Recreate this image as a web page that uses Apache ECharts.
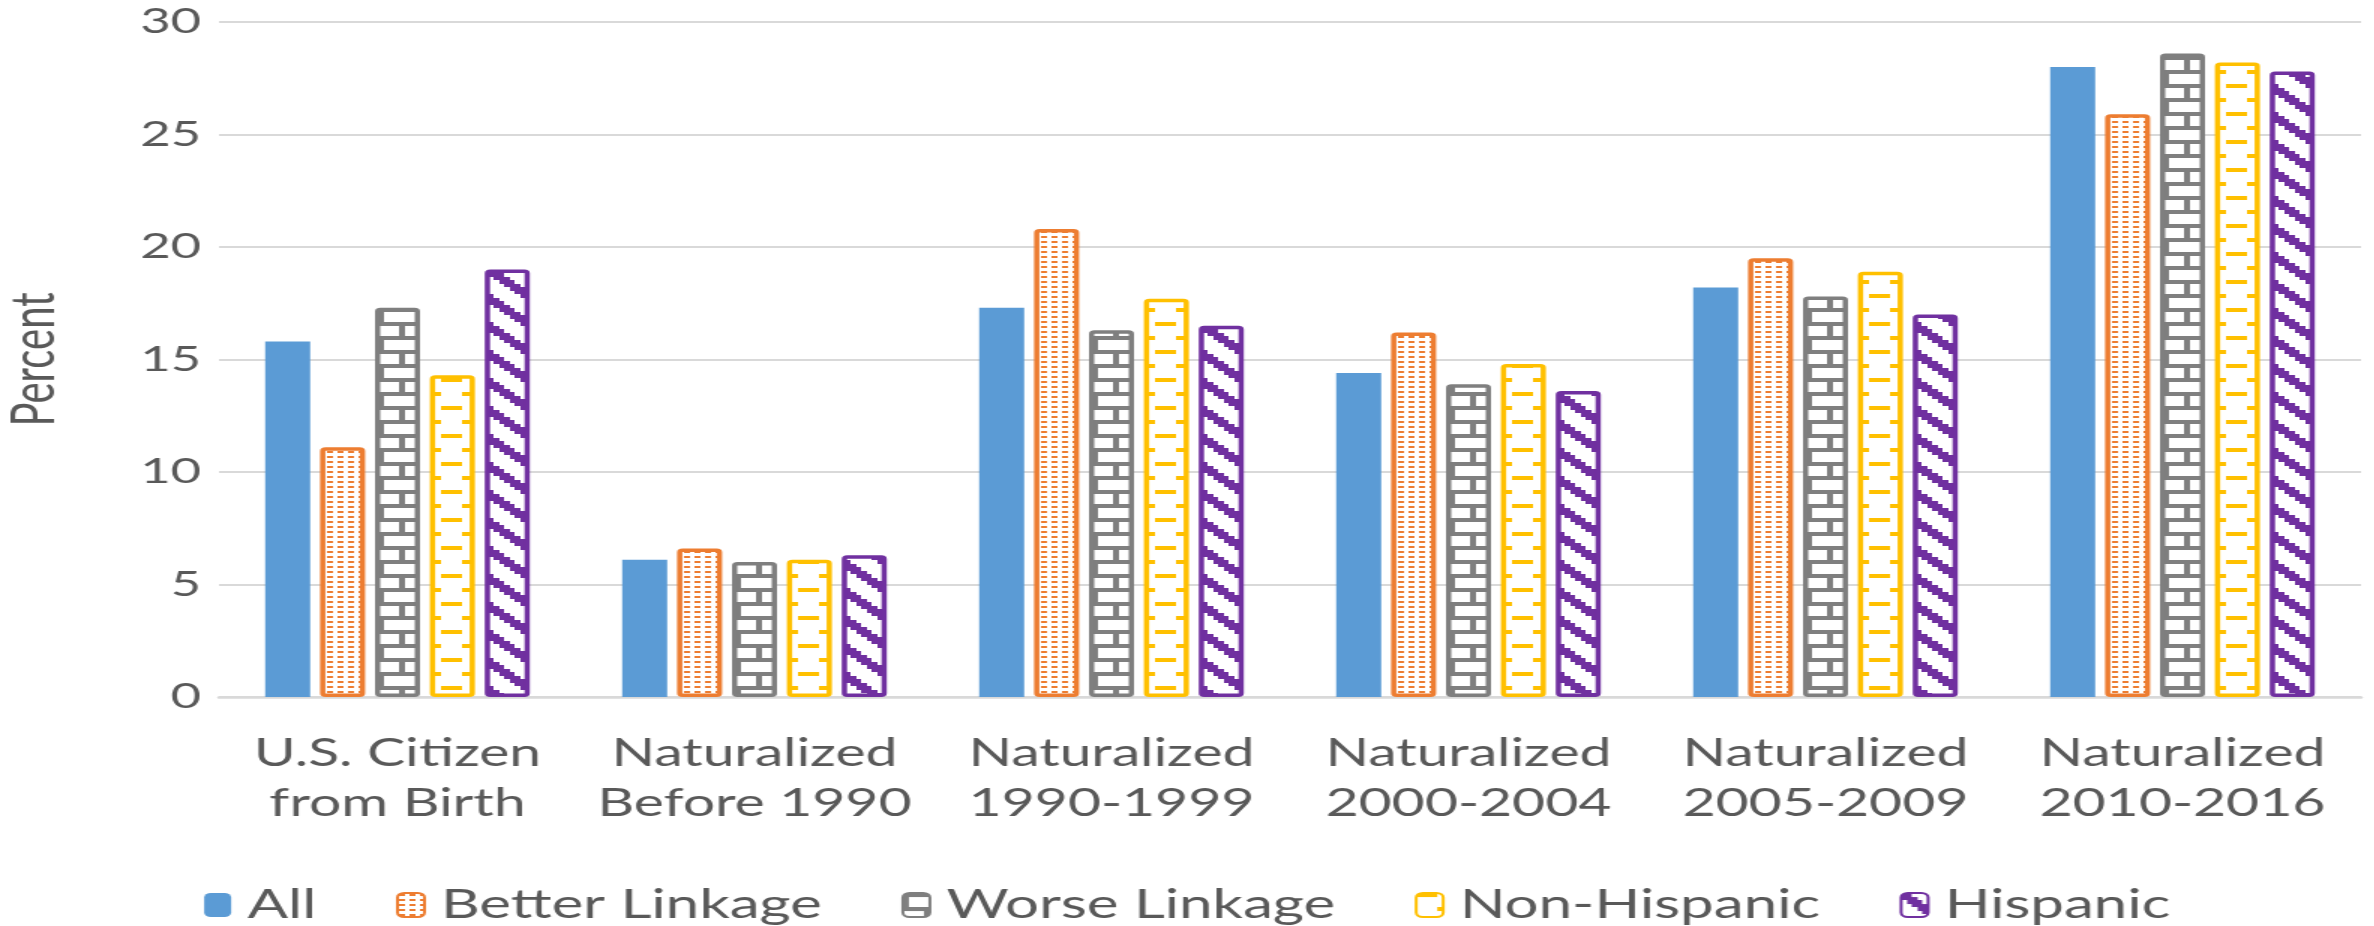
<!DOCTYPE html>
<html>
<head>
<meta charset="utf-8">
<script src="https://cdn.jsdelivr.net/npm/echarts@6/dist/echarts.min.js"></script>
<style>
  html, body { margin: 0; padding: 0; background: #ffffff; overflow: hidden; }
  /* the chart is laid out narrow and widened 1.5x, like the exported Excel figure */
  #chart { width: 1583px; height: 926px; transform: scaleX(1.5); transform-origin: 0 0; }
</style>
</head>
<body>
<div id="chart"></div>
<script>
const categories = [
  'U.S. Citizen\nfrom Birth',
  'Naturalized\nBefore 1990',
  'Naturalized\n1990-1999',
  'Naturalized\n2000-2004',
  'Naturalized\n2005-2009',
  'Naturalized\n2010-2016'
];
const seriesNames = ['All', 'Better Linkage', 'Worse Linkage', 'Non-Hispanic', 'Hispanic'];
const allValues      = [15.8, 6.1, 17.3, 14.4, 18.2, 28.0];
const betterLinkage  = [11.1, 6.6, 20.8, 16.2, 19.5, 25.9];
const worseLinkage   = [17.3, 6.0, 16.3, 13.9, 17.8, 28.6];
const nonHispanic    = [14.3, 6.1, 17.7, 14.8, 18.9, 28.2];
const hispanic       = [19.0, 6.3, 16.5, 13.6, 17.0, 27.8];
const yTicks = [0, 5, 10, 15, 20, 25, 30];

const FONT = 'Lato, sans-serif';
const TEXT = '#595959';
const GRID = '#d9d9d9';

// 8x8 Office pattern bitmaps rendered into a repeating tile
function bitmapTile(rows, color, cell) {
  const n = rows.length;
  const size = Math.round(n * cell);
  const c = document.createElement('canvas');
  c.width = size; c.height = size;
  const g = c.getContext('2d');
  g.fillStyle = '#ffffff';
  g.fillRect(0, 0, size, size);
  g.fillStyle = color;
  for (let y = 0; y < n; y++) {
    for (let x = 0; x < rows[y].length; x++) {
      if (rows[y][x] === '1') {
        const x0 = Math.round(x * cell), x1 = Math.round((x + 1) * cell);
        const y0 = Math.round(y * cell), y1 = Math.round((y + 1) * cell);
        g.fillRect(x0, y0, x1 - x0, y1 - y0);
      }
    }
  }
  return { image: c, repeat: 'repeat' };
}

// fine dotted texture used for the orange bars
function dotTile(color) {
  const c = document.createElement('canvas');
  c.width = 7; c.height = 5;
  const g = c.getContext('2d');
  g.fillStyle = '#ffffff';
  g.fillRect(0, 0, 7, 5);
  g.fillStyle = color;
  g.fillRect(1, 1, 4, 2);
  return { image: c, repeat: 'repeat' };
}

const brick = [
  '11111111',
  '10000000',
  '10000000',
  '10000000',
  '11111111',
  '00001000',
  '00001000',
  '00001000'
];
const dashHorz = [
  '11110000',
  '00000000',
  '00000000',
  '00000000',
  '00001111',
  '00000000',
  '00000000',
  '00000000'
];
const wideDownDiag = [
  '11000001',
  '11100000',
  '01110000',
  '00111000',
  '00011100',
  '00001110',
  '00000111',
  '10000011'
];

const colors = ['#5B9BD5', '#ED7D31', '#7F7F7F', '#FFC000', '#7030A0'];
const fills = [
  colors[0],
  dotTile(colors[1]),
  bitmapTile(brick, colors[2], 3.5),
  bitmapTile(dashHorz, colors[3], 3.5),
  bitmapTile(wideDownDiag, colors[4], 3.5)
];
const values = [allValues, betterLinkage, worseLinkage, nonHispanic, hispanic];

const series = seriesNames.map((name, i) => ({
  name: name,
  type: 'bar',
  data: values[i],
  barWidth: 30,
  barGap: '22%',
  itemStyle: i === 0
    ? { color: fills[i] }
    : { color: fills[i], borderColor: colors[i], borderWidth: 3.5, borderRadius: 2 },
  emphasis: { disabled: true }
}));

const chart = echarts.init(document.getElementById('chart'), null, { renderer: 'canvas' });
chart.setOption({
  animation: false,
  backgroundColor: '#ffffff',
  grid: { left: 146, right: 9, top: 22, bottom: 229, containLabel: false, outerBoundsMode: 'none' },
  legend: {
    data: seriesNames,
    top: 878,
    left: 'center',
    itemWidth: 18,
    itemHeight: 24,
    itemGap: 53,
    textStyle: { fontFamily: FONT, fontSize: 40, color: TEXT, lineHeight: 44, padding: [0, 0, 0, 6] }
  },
  xAxis: {
    type: 'category',
    data: categories,
    axisTick: { show: false },
    axisLine: { lineStyle: { color: GRID, width: 2.5 } },
    axisLabel: {
      interval: 0,
      margin: 32,
      fontFamily: FONT,
      fontSize: 38,
      lineHeight: 50,
      color: TEXT
    }
  },
  yAxis: {
    type: 'value',
    min: yTicks[0],
    max: yTicks[yTicks.length - 1],
    interval: yTicks[1] - yTicks[0],
    name: 'Percent',
    nameLocation: 'middle',
    nameGap: 103,
    nameRotate: 90,
    nameTextStyle: { fontFamily: FONT, fontSize: 40, color: TEXT },
    axisLine: { show: false },
    axisTick: { show: false },
    splitLine: { lineStyle: { color: GRID, width: 2 } },
    axisLabel: { margin: 12, fontFamily: FONT, fontSize: 35, color: TEXT }
  },
  series: series
});
</script>
</body>
</html>
